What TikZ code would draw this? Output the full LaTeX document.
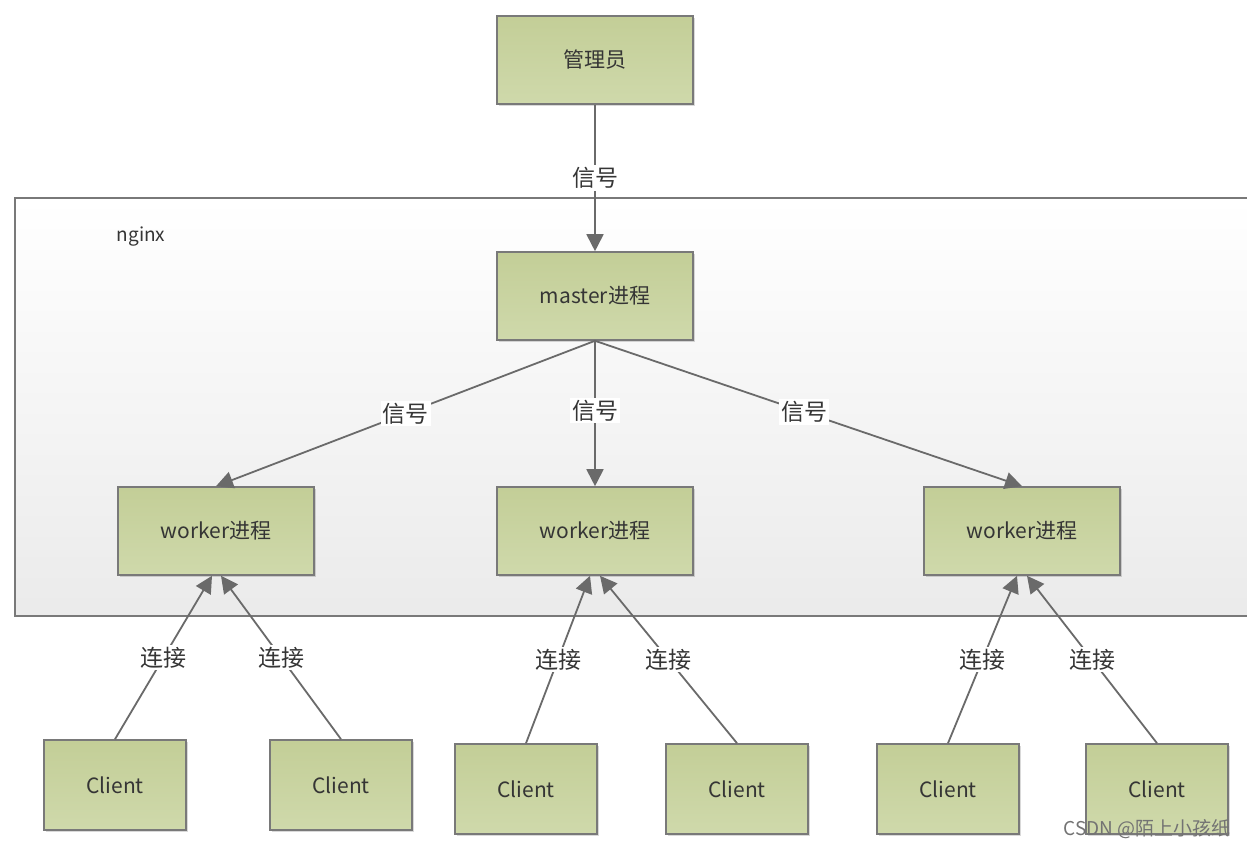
\documentclass[tikz,border=0pt]{standalone}
\usepackage{fontspec}
\setmainfont{Noto Sans CJK SC}
\usetikzlibrary{arrows.meta,shadows,calc}
\definecolor{boxtop}{HTML}{C3CE97}
\definecolor{boxbot}{HTML}{CFD9AB}
\definecolor{edgecol}{HTML}{6A6A6A}
\definecolor{txtcol}{HTML}{353535}
\tikzset{
  gbox/.style={draw=edgecol!90, line width=1.6pt, top color=boxtop, bottom color=boxbot,
    inner sep=0pt, text=txtcol, font=\fontsize{21}{24}\selectfont,
    drop shadow={shadow xshift=2pt, shadow yshift=-2pt, fill=black, opacity=0.15}},
  bigbox/.style={gbox, minimum width=196pt, minimum height=88pt},
  clibox/.style={gbox, minimum width=142pt, minimum height=90pt},
  conn/.style={draw=edgecol, line width=1.8pt},
  arr/.style={conn, -{Triangle[length=17pt,width=17pt]}},
  lbl/.style={fill=white, inner sep=2pt, text=txtcol, font=\fontsize{23}{25}\selectfont},
}
\begin{document}
\begin{tikzpicture}[x=1pt,y=-1pt]
\useasboundingbox (0,0) rectangle (1247,848);
\fill[white] (0,0) rectangle (1247,848);
% nginx container
\shade[top color=white, bottom color=black!8] (15,198) rectangle (1262,616);
\draw[edgecol!90, line width=1.6pt] (1262,198) -- (15,198) -- (15,616) -- (1262,616);
\node[text=txtcol, font=\fontsize{19}{21}\selectfont] (ng) at (141,237) {nginx};

\node[bigbox] (adm) at (595,60) {管理员};
\node[bigbox] (mst) at (595,296) {master进程};
\node[bigbox] (w1) at (216,531) {worker进程};
\node[bigbox] (w2) at (595,531) {worker进程};
\node[bigbox] (w3) at (1022,531) {worker进程};

\node[clibox] (c1) at (115,785) {Client};
\node[clibox] (c2) at (341,785) {Client};
\node[clibox] (c3) at (526,789) {Client};
\node[clibox] (c4) at (737,789) {Client};
\node[clibox] (c5) at (948,789) {Client};
\node[clibox] (c6) at (1157,789) {Client};

\draw[arr] (adm.south) -- node[lbl]{信号} (mst.north);
\draw[arr] (mst.south) -- node[lbl, pos=0.5]{信号} (w1.north);
\draw[arr] (mst.south) -- node[lbl, pos=0.48]{信号} (w2.north);
\draw[arr] (mst.south) -- node[lbl, pos=0.49]{信号} (w3.north);

\draw[arr] (c1.north) -- node[lbl]{连接} ($(w1.south)+(-4,0)$);
\draw[arr] (c2.north) -- node[lbl]{连接} ($(w1.south)+(5,0)$);
\draw[arr] (c3.north) -- node[lbl]{连接} ($(w2.south)+(-5,0)$);
\draw[arr] (c4.north) -- node[lbl]{连接} ($(w2.south)+(5,0)$);
\draw[arr] (c5.north) -- node[lbl]{连接} ($(w3.south)+(-5,0)$);
\draw[arr] (c6.north) -- node[lbl]{连接} ($(w3.south)+(5,0)$);

\node[anchor=east, text=black!55, font=\fontsize{19}{21}\selectfont] (wm) at (1234,829) {CSDN @陌上小孩纸};
\end{tikzpicture}
\end{document}
